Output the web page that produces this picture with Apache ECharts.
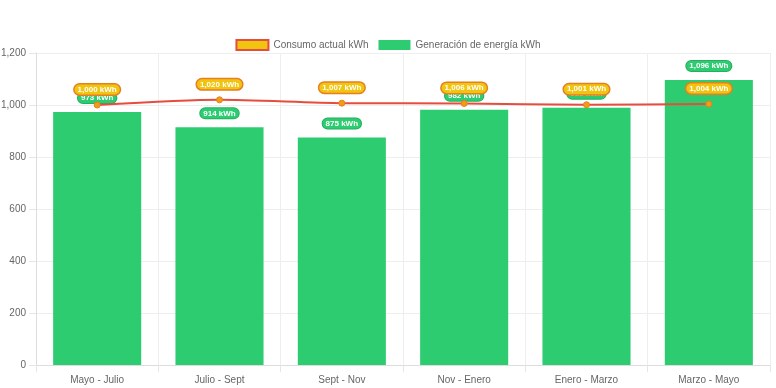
<!DOCTYPE html>
<html><head><meta charset="utf-8">
<script src="https://cdn.jsdelivr.net/npm/echarts@6/dist/echarts.min.js"></script>
<style>html,body{margin:0;padding:0;background:#fff}#c{width:776px;height:388px}</style>
</head><body><div id="c"></div>
<script>
const categories = ['Mayo - Julio','Julio - Sept','Sept - Nov','Nov - Enero','Enero - Marzo','Marzo - Mayo'];
const generacion = [973, 914, 875, 982, 989, 1096];
const consumo = [1000, 1020, 1007, 1006, 1001, 1004];
const yTicks = [0, 200, 400, 600, 800, 1000, 1200];

const fmt = p => p.value.toLocaleString('en-US') + ' kWh';
const font = 'Liberation Sans, Arial, Helvetica, sans-serif';
const chart = echarts.init(document.getElementById('c'));
chart.setOption({
  animation: false,
  textStyle: {fontFamily: font},
  legend: {
    top: 34, left: 'center', itemWidth: 32, itemHeight: 10, itemGap: 10,
    textStyle: {fontSize: 10, color: '#666', fontFamily: font},
    data: [
      {name: 'Consumo actual kWh', icon: 'rect', itemStyle: {color: '#f1c40f', borderColor: '#e74c3c', borderWidth: 2}},
      {name: 'Generación de energía kWh', icon: 'rect', itemStyle: {color: '#2ecc71', borderWidth: 0}}
    ]
  },
  grid: {left: 36, right: 6, top: 53, bottom: 23, containLabel: false, outerBoundsMode: 'none'},
  xAxis: {
    type: 'category', data: categories, boundaryGap: true,
    axisLine: {lineStyle: {color: '#ddd'}},
    axisTick: {show: true, length: 7, lineStyle: {color: '#e5e5e5'}},
    axisLabel: {fontSize: 10, color: '#666', margin: 10, fontFamily: font},
    splitLine: {show: true, lineStyle: {color: '#eee'}}
  },
  yAxis: {
    type: 'value', min: yTicks[0], max: yTicks[yTicks.length-1], interval: 200,
    axisLine: {show: true, lineStyle: {color: '#ddd'}},
    axisTick: {show: true, length: 7, lineStyle: {color: '#e5e5e5'}},
    axisLabel: {fontSize: 10, color: '#666', margin: 10, fontFamily: font, formatter: v => v.toLocaleString('en-US')},
    splitLine: {show: true, lineStyle: {color: '#eee'}}
  },
  series: [
    {
      name: 'Generación de energía kWh', type: 'bar', data: generacion,
      barCategoryGap: '28%', z: 2,
      itemStyle: {color: '#2ecc71'},
      label: {
        show: true, position: 'top', distance: 9, formatter: fmt,
        color: '#fff', fontWeight: 'bold', fontSize: 8, fontFamily: font,
        backgroundColor: '#2ecc71', borderColor: '#27ae60', borderWidth: 1,
        borderRadius: 6, padding: [1, 3, 1, 3]
      }
    },
    {
      name: 'Consumo actual kWh', type: 'line', data: consumo, smooth: 0.25, z: 5,
      lineStyle: {color: '#e74c3c', width: 2},
      symbol: 'circle', symbolSize: 6,
      itemStyle: {color: '#f39c12', borderColor: '#e67e22', borderWidth: 1},
      label: {
        show: true, position: 'top', distance: 7, formatter: fmt,
        color: '#fff', fontWeight: 'bold', fontSize: 8, fontFamily: font,
        backgroundColor: '#f1c40f', borderColor: '#e67e22', borderWidth: 1.5,
        borderRadius: 6, padding: [1, 3, 1, 3]
      }
    }
  ]
});
</script></body></html>
